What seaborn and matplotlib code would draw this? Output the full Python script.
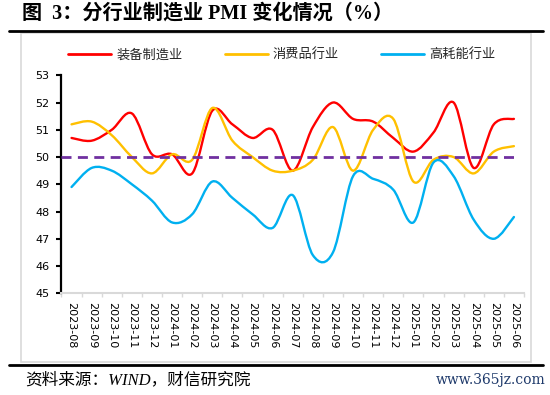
import numpy as np
import pandas as pd
import matplotlib
matplotlib.use("Agg")
import matplotlib.pyplot as plt
import seaborn as sns
from matplotlib.path import Path
from matplotlib.patches import PathPatch, Rectangle
from matplotlib.lines import Line2D

# monthly PMI by industry group (%)
months = ["2023-08", "2023-09", "2023-10", "2023-11", "2023-12", "2024-01",
          "2024-02", "2024-03", "2024-04", "2024-05", "2024-06", "2024-07",
          "2024-08", "2024-09", "2024-10", "2024-11", "2024-12", "2025-01",
          "2025-02", "2025-03", "2025-04", "2025-05", "2025-06"]
equipment = [50.7, 50.6, 51.0, 51.6, 50.1, 50.1, 49.4, 51.7, 51.2, 50.7, 51.0, 49.5,
             51.1, 52.0, 51.4, 51.3, 50.7, 50.2, 50.9, 52.0, 49.6, 51.2, 51.4]
consumer = [51.2, 51.3, 50.8, 50.0, 49.4, 50.1, 49.9, 51.8, 50.6, 50.0, 49.5, 49.5,
            49.9, 51.1, 49.5, 51.0, 51.4, 49.1, 49.9, 50.0, 49.4, 50.2, 50.4]
energy = [48.9, 49.6, 49.5, 49.0, 48.4, 47.6, 47.9, 49.1, 48.5, 47.9, 47.4, 48.6,
          46.4, 46.5, 49.3, 49.2, 48.8, 47.6, 49.8, 49.3, 47.7, 47.0, 47.8]
series_names = ["装备制造业", "消费品行业", "高耗能行业"]
threshold = 50
y_ticks = [45, 46, 47, 48, 49, 50, 51, 52, 53]

colors = {"装备制造业": "#FF0000", "消费品行业": "#FFC000", "高耗能行业": "#00B0F0"}


def smooth_path(xy):
    # Excel-style smoothed line: cubic bezier through every point
    n = len(xy)
    verts = [xy[0]]
    codes = [Path.MOVETO]
    for i in range(n - 1):
        p0 = xy[i - 1] if i > 0 else xy[i]
        p1, p2 = xy[i], xy[i + 1]
        p3 = xy[i + 2] if i + 2 < n else xy[i + 1]
        verts += [p1 + (p2 - p0) / 6, p2 - (p3 - p1) / 6, p2]
        codes += [Path.CURVE4] * 3
    return Path(verts, codes)


sns.set_theme(style="white")
plt.rcParams["font.family"] = ["DejaVu Sans", "Noto Sans CJK SC"]
plt.rcParams["axes.unicode_minus"] = False

df = pd.DataFrame({
    "pos": np.tile(np.arange(len(months)), 3),
    "行业": np.repeat(series_names, len(months)),
    "PMI": equipment + consumer + energy,
})

fig = plt.figure(figsize=(5.5, 3.95), dpi=100)
ax = fig.add_axes([0.1118, 0.2575, 0.8409, 0.5519])

sns.lineplot(data=df, x="pos", y="PMI", hue="行业", hue_order=series_names,
             palette=colors, linewidth=1.7, ax=ax)

# swap the straight segments for smoothed curves
for line in list(ax.lines):
    xy = line.get_xydata()
    if len(xy) < 2:
        continue
    patch = PathPatch(smooth_path(xy), facecolor="none",
                      edgecolor=line.get_color(), lw=1.7, zorder=2,
                      capstyle="round", joinstyle="round")
    ax.add_patch(patch)
    line.set_visible(False)

ax.axhline(threshold, xmin=0, xmax=(len(months) - 0.5) / len(months),
           color="#7030A0", lw=2, ls=(0, (3.6, 2.3)), zorder=3)

ax.set_xlim(-0.5, len(months) - 0.5)
ax.set_ylim(y_ticks[0], y_ticks[-1])
ax.set_yticks(y_ticks)
ax.set_xticks(np.arange(len(months)))
ax.set_xticklabels(months, rotation=-90)
ax.set_xticks(np.arange(len(months) + 1) - 0.5, minor=True)
ax.set_xlabel("")
ax.set_ylabel("")

ax.tick_params(axis="x", which="major", length=0, pad=6.5, labelsize=8,
               labelcolor="black", bottom=True)
ax.tick_params(axis="x", which="minor", length=3, width=1, color="#D9D9D9",
               bottom=True)
ax.tick_params(axis="y", length=3.3, width=1.5, color="black", pad=5.5,
               labelsize=8, labelcolor="black", left=True)

sns.despine(ax=ax)
ax.spines["left"].set_color("black")
ax.spines["left"].set_linewidth(1.6)
ax.spines["bottom"].set_color("#D9D9D9")
ax.spines["bottom"].set_linewidth(1.5)

sns.move_legend(ax, "center", bbox_to_anchor=(0.5127, 0.861),
                bbox_transform=fig.transFigure, ncol=3, frameon=False,
                title=None, fontsize=9.5, handlelength=3.25,
                handletextpad=0.4, columnspacing=3.2, borderpad=0)
for h in ax.get_legend().legend_handles:
    h.set_linewidth(2)

# outer chart frame and report rules
fig.patches.append(Rectangle((0.0382, 0.0843), 0.927, 0.8314,
                             transform=fig.transFigure, fill=False,
                             ec="#D9D9D9", lw=1.2))
fig.add_artist(Line2D([0.0164, 0.987], [0.922, 0.922], color="black", lw=2))
fig.add_artist(Line2D([0.0164, 0.987], [0.076, 0.076], color="black", lw=2))

fig.text(0.04, 0.966, "图  3：分行业制造业 PMI 变化情况（%）",
         family=["Liberation Serif", "Noto Sans CJK SC"], weight="bold",
         size=14.5, va="center", ha="left", color="black")
fig.text(0.045, 0.036, "资料来源：WIND，财信研究院",
         family=["Liberation Serif", "Noto Sans CJK SC"], style="italic",
         size=12, va="center", ha="left", color="black")
fig.text(0.991, 0.038, "www.365jz.com", family="DejaVu Serif", size=10,
         va="center", ha="right", color="#1F3A6B")

fig.savefig("out.png", dpi=100)
